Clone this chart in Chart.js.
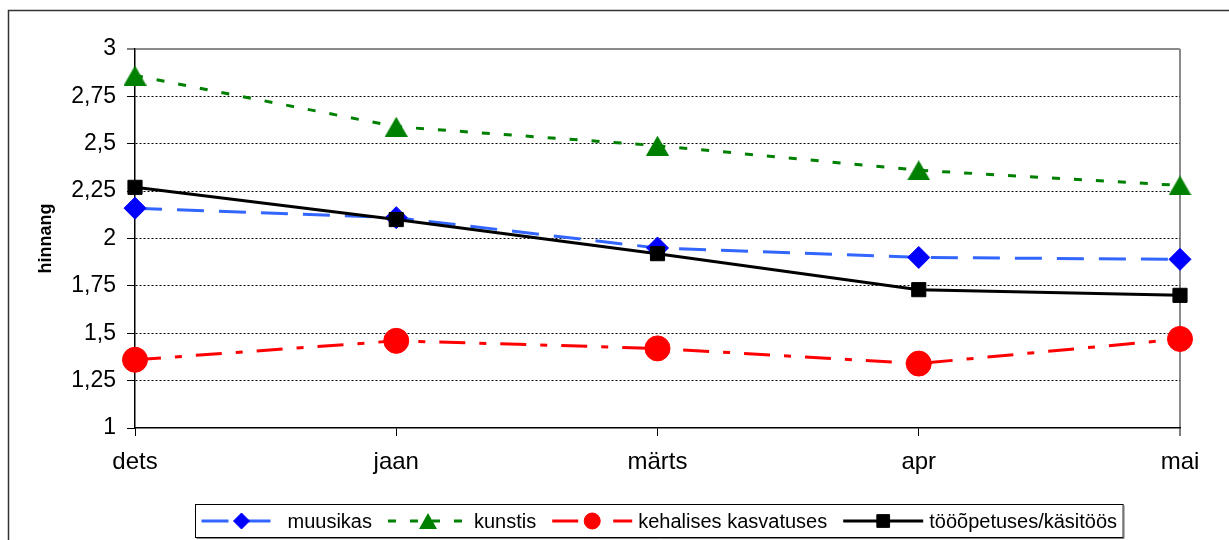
<!DOCTYPE html>
<html lang="et">
<head>
<meta charset="utf-8">
<title>hinnang</title>
<script src="https://cdn.jsdelivr.net/npm/chart.js@4/dist/chart.umd.min.js"></script>
<style>
  html, body { margin: 0; padding: 0; background: #fff; }
  canvas { display: block; }
</style>
</head>
<body>
<canvas id="c" width="1229" height="540"></canvas>
<script>
// Months on the category axis
const months = ['dets', 'jaan', 'märts', 'apr', 'mai'];

// Average grades per subject
const muusikas = [2.16, 2.11, 1.95, 1.90, 1.89];
const kunstis = [2.86, 2.59, 2.49, 2.36, 2.28];
const kehaline = [1.36, 1.46, 1.42, 1.34, 1.47];
const tooopetus = [2.27, 2.10, 1.92, 1.73, 1.70];

// Value axis ticks
const yTicks = [1, 1.25, 1.5, 1.75, 2, 2.25, 2.5, 2.75, 3];

const FONT = "'Liberation Sans', Arial, sans-serif";

// Triangle marker whose bounding box is centred on the data point
function triangleImage(w, h, color) {
  const c = document.createElement('canvas');
  c.width = w; c.height = h;
  const g = c.getContext('2d');
  g.fillStyle = color;
  g.beginPath();
  g.moveTo(w / 2, 0);
  g.lineTo(w, h);
  g.lineTo(0, h);
  g.closePath();
  g.fill();
  return c;
}

// Marker drawing for the legend
function marker(ctx, style, r, x, y, color) {
  ctx.save();
  ctx.fillStyle = color;
  ctx.strokeStyle = color;
  ctx.lineWidth = 1;
  ctx.setLineDash([]);
  if (style instanceof HTMLCanvasElement) {
    ctx.drawImage(style, x - style.width / 2, y - style.height / 2);
  } else if (Chart.helpers && Chart.helpers.drawPoint) {
    Chart.helpers.drawPoint(ctx, { pointStyle: style, radius: r, rotation: 0, borderWidth: 1 }, x, y);
  } else {
    ctx.beginPath();
    if (style === 'circle') ctx.arc(x, y, r, 0, Math.PI * 2);
    else if (style === 'rect') { const s = r * Math.SQRT1_2; ctx.rect(x - s, y - s, 2 * s, 2 * s); }
    else if (style === 'rectRot') { ctx.moveTo(x - r, y); ctx.lineTo(x, y - r); ctx.lineTo(x + r, y); ctx.lineTo(x, y + r); ctx.closePath(); }
    ctx.fill(); ctx.stroke();
  }
  ctx.restore();
}

// Outer frame of the chart object
const framePlugin = {
  id: 'frame',
  beforeDraw(chart) {
    const ctx = chart.ctx;
    ctx.save();
    ctx.strokeStyle = '#333';
    ctx.lineWidth = 1.5;
    ctx.beginPath();
    ctx.moveTo(8.5, chart.height);
    ctx.lineTo(8.5, 10.5);
    ctx.lineTo(chart.width, 10.5);
    ctx.stroke();
    ctx.restore();
  }
};

// Boxed legend with line sample + marker for each series
const boxLegend = {
  id: 'boxLegend',
  afterDraw(chart) {
    const ctx = chart.ctx;
    const sets = chart.data.datasets;
    ctx.save();
    ctx.font = '20px ' + FONT;
    const sample = 80, gapText = 6, gapItem = 16, pad = 6;
    const widths = sets.map(d => ctx.measureText(d.label).width);
    let total = pad * 2;
    widths.forEach((w, i) => { total += sample + gapText + w + (i < widths.length - 1 ? gapItem : 0); });
    const cx = 659;
    const left = Math.round(cx - total / 2) + 0.5;
    const top = 504.5, h = 33;
    ctx.fillStyle = '#fff';
    ctx.fillRect(left, top, total, h);
    ctx.strokeStyle = '#000';
    ctx.lineWidth = 1;
    ctx.strokeRect(left, top, total, h);
    ctx.strokeStyle = '#888';
    ctx.beginPath();
    ctx.moveTo(left + 1, top + h + 1);
    ctx.lineTo(left + total + 1, top + h + 1);
    ctx.lineTo(left + total + 1, top + 1);
    ctx.stroke();

    const cy = top + h / 2;
    let x = left + pad;
    sets.forEach((d, i) => {
      ctx.save();
      ctx.strokeStyle = d.borderColor;
      ctx.lineWidth = d.borderWidth;
      ctx.setLineDash(d.borderDash || []);
      ctx.beginPath();
      ctx.moveTo(x, cy);
      ctx.lineTo(x + sample, cy);
      ctx.stroke();
      ctx.restore();
      marker(ctx, d.legendStyle || d.pointStyle, d.legendRadius, x + sample / 2, cy, d.pointBackgroundColor);
      ctx.fillStyle = '#000';
      ctx.textBaseline = 'middle';
      ctx.textAlign = 'left';
      ctx.fillText(d.label, x + sample + gapText, cy + 1);
      x += sample + gapText + widths[i] + gapItem;
    });
    ctx.restore();
  }
};

const datasets = [
  {
    label: 'muusikas', data: muusikas,
    borderColor: '#3366FF', borderWidth: 3, borderDash: [27, 15],
    pointStyle: 'rectRot', pointRadius: 11, pointHoverRadius: 11, legendRadius: 8,
    pointBackgroundColor: '#0000FF', pointBorderColor: '#0000FF', pointBorderWidth: 1,
    order: 2
  },
  {
    label: 'kunstis', data: kunstis,
    borderColor: '#008000', borderWidth: 3, borderDash: [8, 14],
    pointStyle: triangleImage(23, 20, '#008000'), legendStyle: triangleImage(18, 16, '#008000'),
    pointRadius: 12, pointHoverRadius: 12, legendRadius: 10,
    pointBackgroundColor: '#008000', pointBorderColor: '#008000', pointBorderWidth: 1,
    order: 3
  },
  {
    label: 'kehalises kasvatuses', data: kehaline,
    borderColor: '#FF0000', borderWidth: 3, borderDash: [26, 14, 7, 14],
    pointStyle: 'circle', pointRadius: 12.5, pointHoverRadius: 12.5, legendRadius: 8,
    pointBackgroundColor: '#FF0000', pointBorderColor: '#FF0000', pointBorderWidth: 1,
    order: 1
  },
  {
    label: 'tööõpetuses/käsitöös', data: tooopetus,
    borderColor: '#000000', borderWidth: 3, borderDash: [],
    pointStyle: 'rect', pointRadius: 10, pointHoverRadius: 10, legendRadius: 9,
    pointBackgroundColor: '#000000', pointBorderColor: '#000000', pointBorderWidth: 1,
    order: 0
  }
];
datasets.forEach(d => { d.tension = 0; d.fill = false; d.clip = false; });

new Chart(document.getElementById('c'), {
  type: 'line',
  data: { labels: months, datasets },
  options: {
    responsive: false,
    devicePixelRatio: 1,
    animation: false,
    layout: { padding: { top: 49, right: 49, left: 0, bottom: 0 } },
    plugins: { legend: { display: false }, tooltip: { enabled: false } },
    scales: {
      x: {
        offset: false,
        afterFit(s) { s.height = 112; },
        grid: {
          drawTicks: true,
          tickLength: 8,
          tickColor: '#000',
          tickWidth: 1,
          color: ctx => (ctx.index === months.length - 1 ? '#8a8a8a' : 'rgba(0,0,0,0)'),
          lineWidth: ctx => (ctx.index === months.length - 1 ? 2 : 1)
        },
        border: { display: true, color: '#000', width: 1.5 },
        ticks: {
          color: '#000', padding: 12, maxRotation: 0, autoSkip: false,
          font: { family: FONT, size: 24 }
        }
      },
      y: {
        min: 1, max: 3,
        afterFit(s) { s.width = 135; },
        afterBuildTicks(s) { s.ticks = yTicks.map(v => ({ value: v })); },
        title: {
          display: true, text: 'hinnang', color: '#000',
          font: { family: FONT, size: 18, weight: 'bold' },
          padding: { top: 35, bottom: 0 }
        },
        grid: {
          drawTicks: true,
          tickLength: 8,
          tickColor: '#000',
          tickWidth: 1,
          tickBorderDash: [],
          color: ctx => {
            const v = ctx.tick && ctx.tick.value;
            if (v === 3) return '#8a8a8a';
            if (v === 1) return 'rgba(0,0,0,0)';
            return '#000';
          },
          lineWidth: ctx => (ctx.tick && ctx.tick.value === 3 ? 2 : 1)
        },
        border: {
          display: true, color: '#000', width: 1.5,
          dash: ctx => (ctx.tick && (ctx.tick.value === 3 || ctx.tick.value === 1) ? [] : [2, 2])
        },
        ticks: {
          color: '#000', padding: 11,
          font: { family: FONT, size: 23 },
          callback: v => String(v).replace('.', ',')
        }
      }
    }
  },
  plugins: [framePlugin, boxLegend]
});
</script>
</body>
</html>
